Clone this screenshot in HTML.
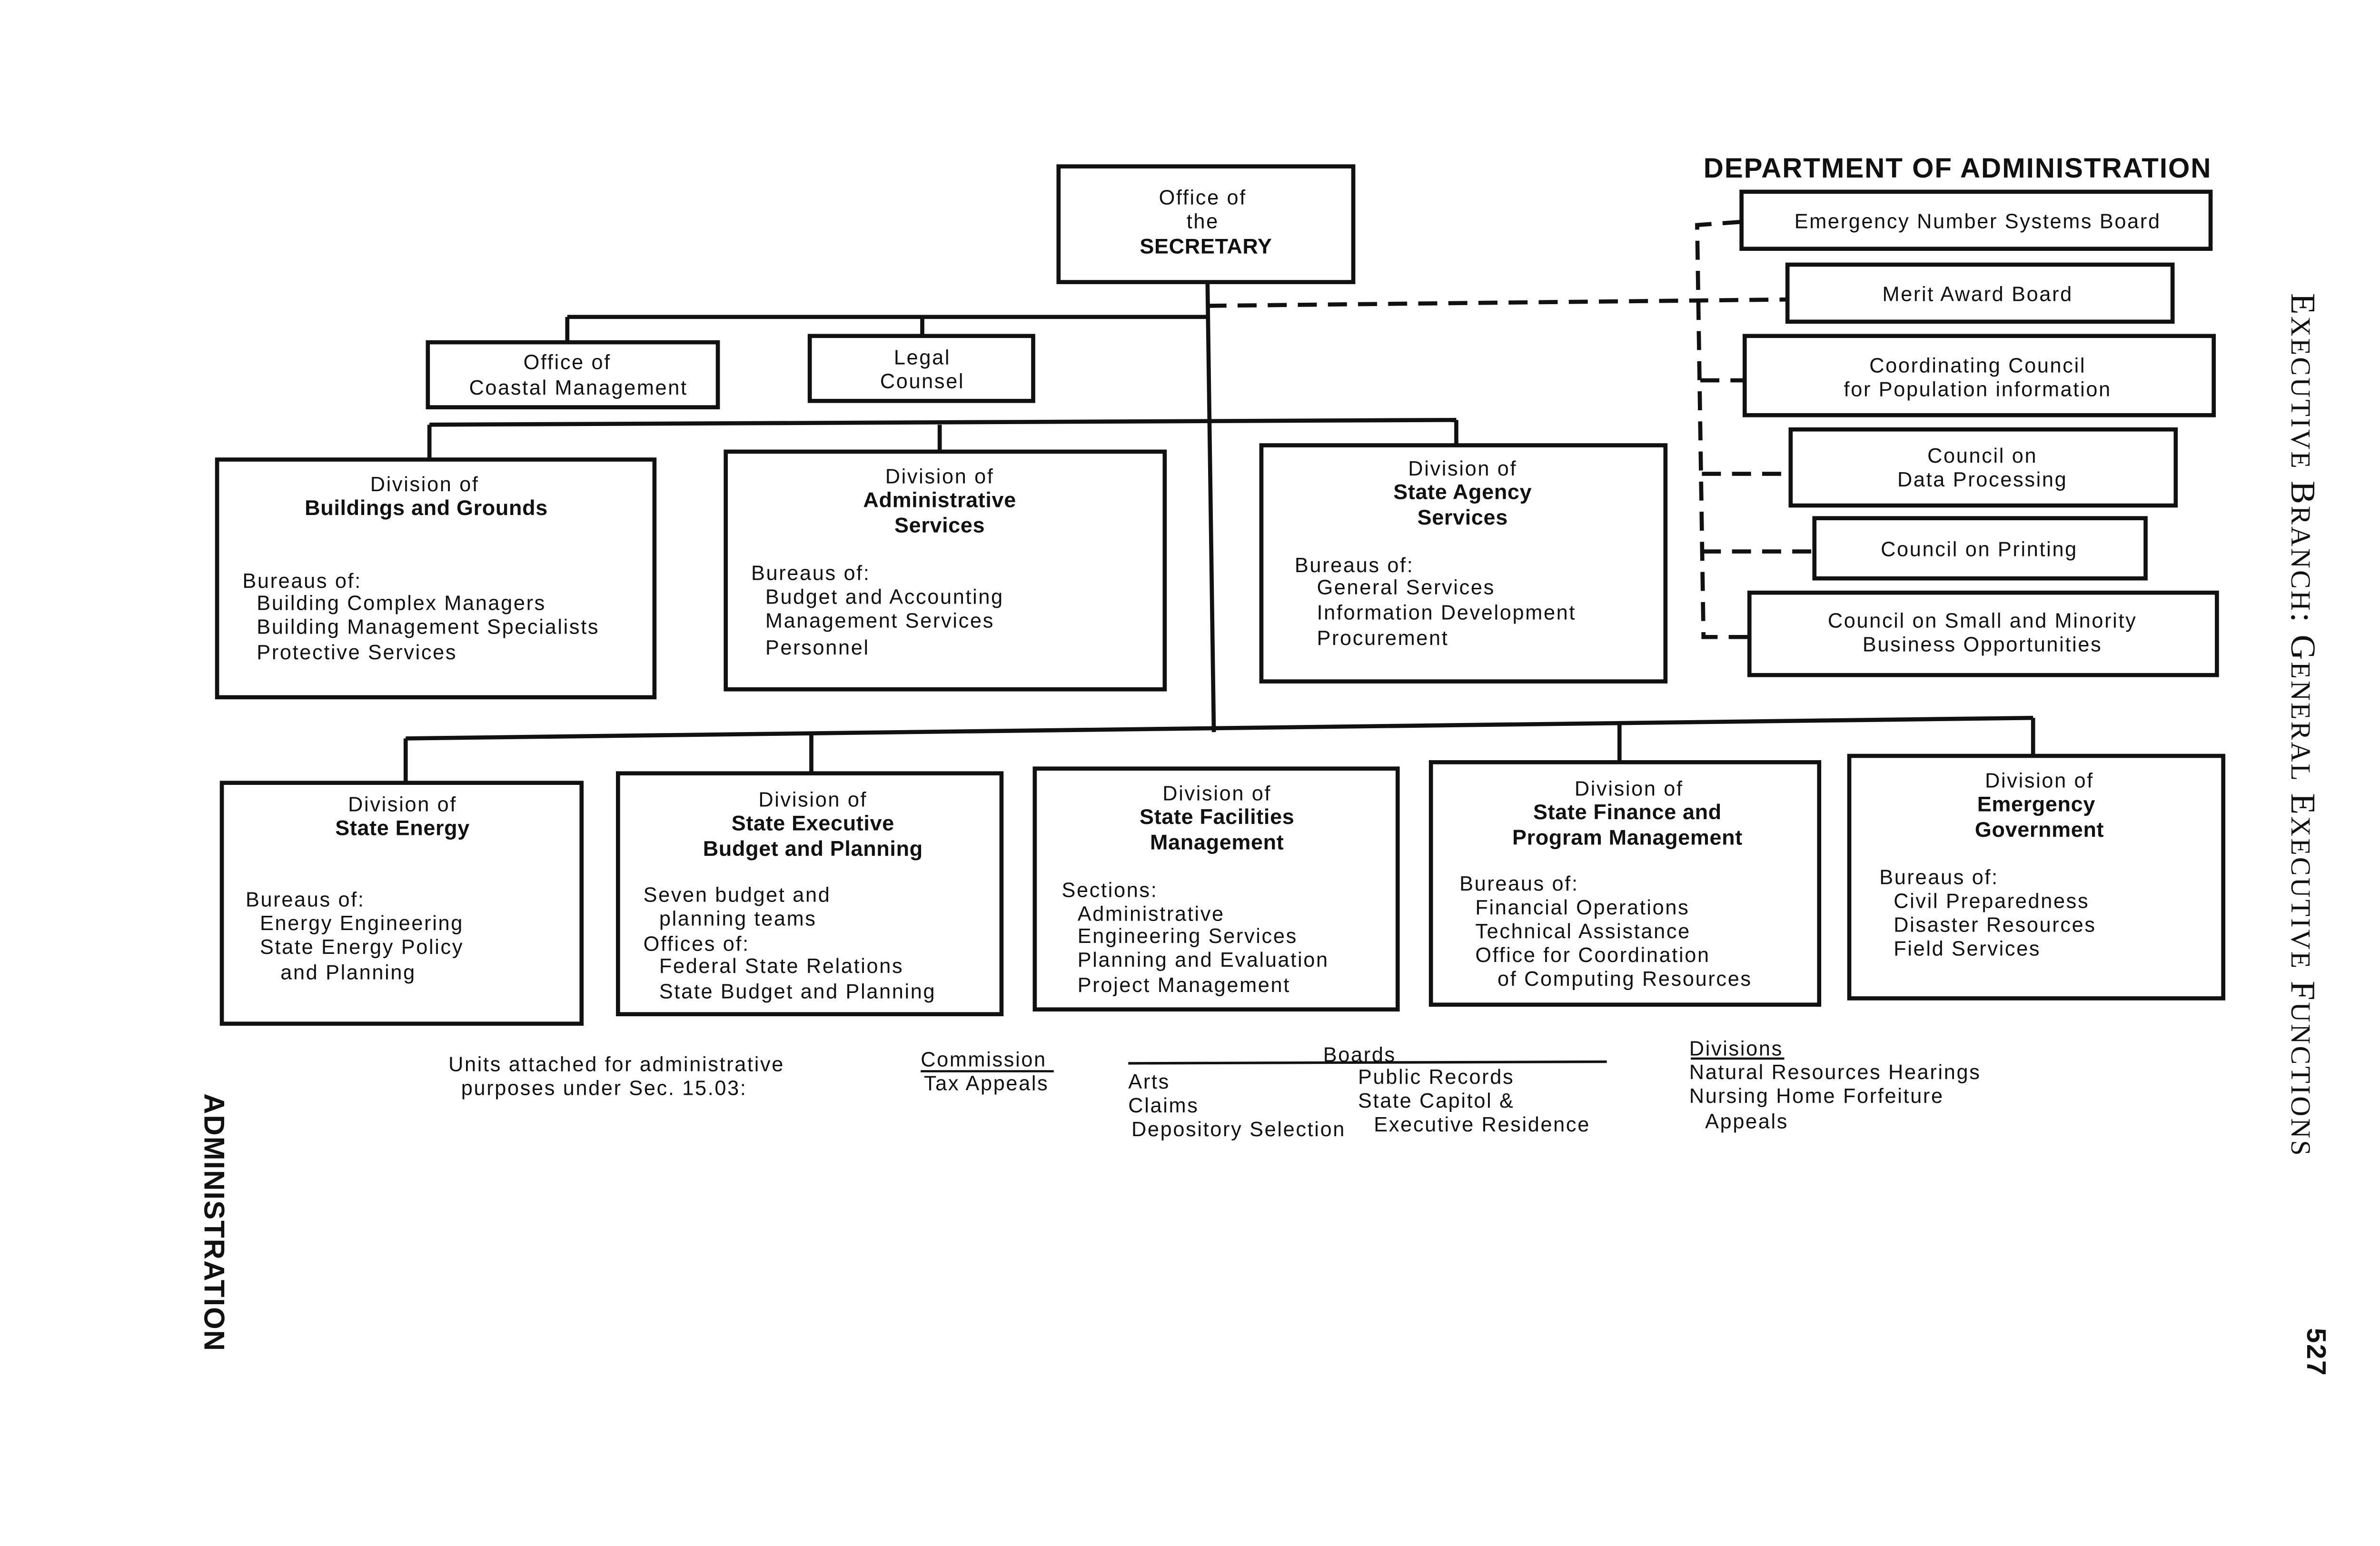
<!DOCTYPE html>
<html><head><meta charset="utf-8"><style>
html,body{margin:0;padding:0;background:#fff;}
svg{display:block;}
text{font-family:"Liberation Sans",sans-serif;fill:#111;font-size:13px;letter-spacing:0.8px;}
.b{font-weight:bold;font-size:13.5px;letter-spacing:0.2px;}
.c{text-anchor:middle;}
</style></head><body>
<svg width="5220" height="3248" viewBox="0 0 1568 975.6" preserveAspectRatio="none" xmlns="http://www.w3.org/2000/svg">
<g fill="none" stroke="#111" stroke-width="2.6">
<rect x="668" y="105" width="186" height="73"/>
<line x1="762" y1="178" x2="766" y2="462"/>
<line x1="358" y1="200" x2="762" y2="200"/>
<line x1="358" y1="200" x2="358" y2="215"/>
<line x1="582" y1="200" x2="582" y2="212"/>
<rect x="270" y="216" width="183" height="41"/>
<rect x="511" y="212" width="141" height="41"/>
<line x1="271" y1="268" x2="919" y2="265"/>
<line x1="271" y1="268" x2="271" y2="290"/>
<line x1="593" y1="268" x2="593" y2="285"/>
<line x1="919" y1="265" x2="919" y2="281"/>
<rect x="137" y="290" width="276" height="150"/>
<rect x="458" y="285" width="277" height="150"/>
<rect x="796" y="281" width="255" height="149"/>
<line x1="256" y1="466" x2="1283" y2="453"/>
<line x1="256" y1="466" x2="256" y2="494"/>
<line x1="512" y1="464" x2="512" y2="488"/>
<line x1="1022" y1="457" x2="1022" y2="481"/>
<line x1="1283" y1="453" x2="1283" y2="477"/>
<rect x="140" y="494" width="227" height="152"/>
<rect x="390" y="488" width="242" height="152"/>
<rect x="653" y="485" width="229" height="152"/>
<rect x="903" y="481" width="245" height="153"/>
<rect x="1167" y="477" width="236" height="153"/>
<rect x="1099" y="121" width="296" height="36"/>
<rect x="1128" y="167" width="243" height="36"/>
<rect x="1101" y="212" width="296" height="50"/>
<rect x="1130" y="271" width="243" height="48"/>
<rect x="1145" y="327" width="209" height="38"/>
<rect x="1104" y="374" width="295" height="52"/>
<line x1="712" y1="671" x2="1014" y2="670" stroke-width="1.6"/>
<line x1="581" y1="676" x2="665" y2="676" stroke-width="1.4"/>
<line x1="1067" y1="668" x2="1126" y2="668" stroke-width="1.4"/>
</g>
<g fill="none" stroke="#111" stroke-width="2.6" stroke-dasharray="12,7">
<line x1="762" y1="193" x2="1128" y2="189"/>
<polyline points="1099,140 1071,142 1075,402 1104,402"/>
<line x1="1073" y1="240" x2="1101" y2="240"/>
<line x1="1074" y1="299" x2="1130" y2="299"/>
<line x1="1074" y1="348" x2="1145" y2="348"/>
</g>
<text x="1075" y="112" style="font-weight:bold;font-size:17.5px;letter-spacing:0.6px">DEPARTMENT OF ADMINISTRATION</text>
<g>
<text class="c" x="1248" y="144">Emergency Number Systems Board</text>
<text class="c" x="1248" y="190">Merit Award Board</text>
<text class="c" x="1248" y="235">Coordinating Council</text>
<text class="c" x="1248" y="250">for Population information</text>
<text class="c" x="1251" y="292">Council on</text>
<text class="c" x="1251" y="307">Data Processing</text>
<text class="c" x="1249" y="351">Council on Printing</text>
<text class="c" x="1251" y="396">Council on Small and Minority</text>
<text class="c" x="1251" y="411">Business Opportunities</text>

<text class="c" x="759" y="129">Office of</text>
<text class="c" x="759" y="144">the</text>
<text class="c b" x="761" y="160">SECRETARY</text>
<text class="c" x="358" y="233">Office of</text>
<text class="c" x="365" y="249">Coastal  Management</text>
<text class="c" x="582" y="230">Legal</text>
<text class="c" x="582" y="245">Counsel</text>

<text class="c" x="268" y="310">Division of</text>
<text class="c b" x="269" y="325">Buildings and Grounds</text>
<text class="c" x="593" y="305">Division of</text>
<text class="c b" x="593" y="320">Administrative</text>
<text class="c b" x="593" y="336">Services</text>
<text class="c" x="923" y="300">Division of</text>
<text class="c b" x="923" y="315">State Agency</text>
<text class="c b" x="923" y="331">Services</text>

<text class="c" x="254" y="512">Division of</text>
<text class="c b" x="254" y="527">State Energy</text>
<text class="c" x="513" y="509">Division of</text>
<text class="c b" x="513" y="524">State Executive</text>
<text class="c b" x="513" y="540">Budget and Planning</text>
<text class="c" x="768" y="505">Division of</text>
<text class="c b" x="768" y="520">State Facilities</text>
<text class="c b" x="768" y="536">Management</text>
<text class="c" x="1028" y="502">Division of</text>
<text class="c b" x="1027" y="517">State Finance and</text>
<text class="c b" x="1027" y="533">Program Management</text>
<text class="c" x="1287" y="497">Division of</text>
<text class="c b" x="1285" y="512">Emergency</text>
<text class="c b" x="1287" y="528">Government</text>
</g>
<text x="153" y="371">Bureaus of:</text>
<text x="162" y="385">Building Complex Managers</text>
<text x="162" y="400">Building Management Specialists</text>
<text x="162" y="416">Protective Services</text>

<text x="474" y="366">Bureaus of:</text>
<text x="483" y="381">Budget and Accounting</text>
<text x="483" y="396">Management Services</text>
<text x="483" y="413">Personnel</text>

<text x="817" y="361">Bureaus  of:</text>
<text x="831" y="375">General  Services</text>
<text x="831" y="391">Information Development</text>
<text x="831" y="407">Procurement</text>

<text x="155" y="572">Bureaus of:</text>
<text x="164" y="587">Energy Engineering</text>
<text x="164" y="602">State Energy Policy</text>
<text x="177" y="618">and Planning</text>

<text x="406" y="569">Seven budget and</text>
<text x="416" y="584">planning teams</text>
<text x="406" y="600">Offices of:</text>
<text x="416" y="614">Federal State Relations</text>
<text x="416" y="630">State Budget and Planning</text>

<text x="670" y="566">Sections:</text>
<text x="680" y="581">Administrative</text>
<text x="680" y="595">Engineering Services</text>
<text x="680" y="610">Planning and Evaluation</text>
<text x="680" y="626">Project Management</text>

<text x="921" y="562">Bureaus of:</text>
<text x="931" y="577">Financial Operations</text>
<text x="931" y="592">Technical Assistance</text>
<text x="931" y="607">Office for Coordination</text>
<text x="945" y="622">of Computing Resources</text>

<text x="1186" y="558">Bureaus of:</text>
<text x="1195" y="573">Civil Preparedness</text>
<text x="1195" y="588">Disaster Resources</text>
<text x="1195" y="603">Field Services</text>

<text x="283" y="676">Units attached for  administrative</text>
<text x="291" y="691">purposes under Sec. 15.03:</text>
<text x="581" y="673">Commission</text>
<text x="583" y="688">Tax Appeals</text>
<text x="835" y="670">Boards</text>
<text x="712" y="687">Arts</text>
<text x="712" y="702">Claims</text>
<text x="714" y="717">Depository Selection</text>
<text x="857" y="684">Public Records</text>
<text x="857" y="699">State Capitol &amp;</text>
<text x="867" y="714">Executive Residence</text>
<text x="1066" y="666">Divisions</text>
<text x="1066" y="681">Natural Resources Hearings</text>
<text x="1066" y="696">Nursing Home Forfeiture</text>
<text x="1076" y="712">Appeals</text>

<text transform="translate(1446,185) rotate(90)" style="font-family:'Liberation Serif',serif;font-size:22px;letter-spacing:1.2px">E<tspan font-size="17.5">XECUTIVE</tspan> B<tspan font-size="17.5">RANCH</tspan>: G<tspan font-size="17.5">ENERAL</tspan> E<tspan font-size="17.5">XECUTIVE</tspan> F<tspan font-size="17.5">UNCTIONS</tspan></text>
<text transform="translate(1456,838) rotate(90)" style="font-weight:bold;font-size:17px;">527</text>
<text transform="translate(129,690) rotate(90)" style="font-weight:bold;font-size:18px;letter-spacing:0.6px">ADMINISTRATION</text>
</svg>
</body></html>
